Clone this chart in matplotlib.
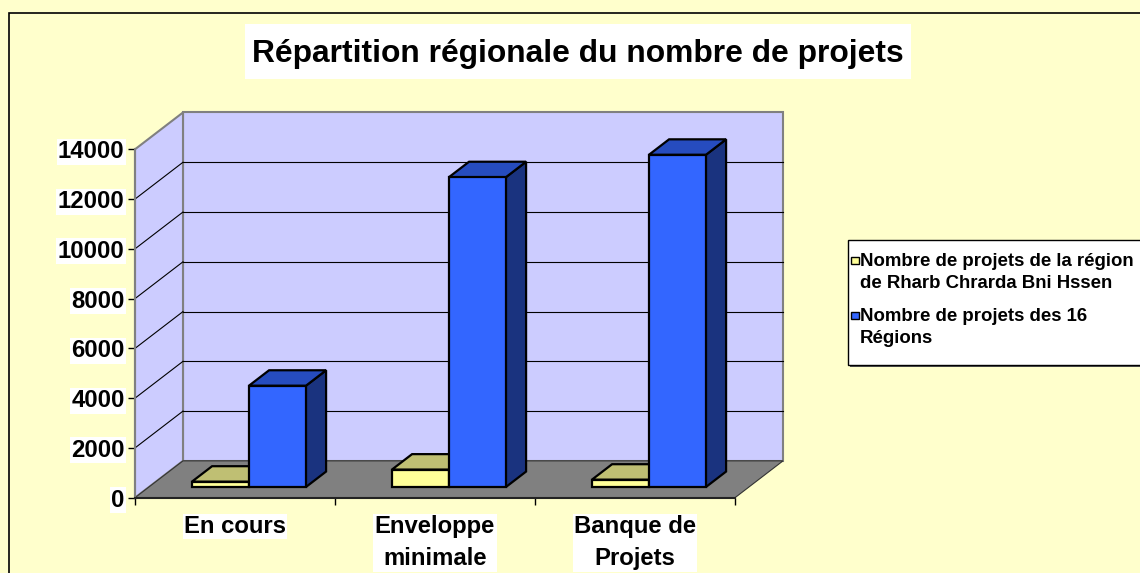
import matplotlib
matplotlib.use('Agg')
import matplotlib.pyplot as plt
from matplotlib.patches import Polygon, Rectangle

# ---------------- data ----------------
categories = ['En cours', 'Enveloppe\nminimale', 'Banque de\nProjets']
region_values = [215, 700, 295]          # Rharb Chrarda Bni Hssen
national_values = [4070, 12450, 13350]   # 16 Régions
series_labels = [['Nombre de projets de la région', 'de Rharb Chrarda Bni Hssen'],
                 ['Nombre de projets des 16', 'Régions']]
y_ticks = [0, 2000, 4000, 6000, 8000, 10000, 12000, 14000]
title = 'Répartition régionale du nombre de projets'

# ---------------- style ----------------
W, H = 1140, 573
FONT = 'Liberation Sans'
plt.rcParams['font.family'] = [FONT, 'DejaVu Sans']
BG = '#FFFFCC'
WALL = '#CCCCFF'
FLOOR = '#808080'
series_colors = [('#FFFF99', '#BFBF73', '#7F7F4C'),
                 ('#3366FF', '#264CBF', '#1A337F')]


def fx(px):
    return px / W


def fy(py):
    return 1 - py / H


fig = plt.figure(figsize=(W / 100, H / 100), dpi=100, facecolor=BG)

# outer chart border
fig.add_artist(Rectangle((fx(9), -0.05), 1.2, fy(12.7) + 0.05, transform=fig.transFigure,
                         fill=False, ec='black', lw=1.2))

# title
fig.add_artist(Rectangle((fx(245), fy(79)), (911 - 245) / W, 55 / H, transform=fig.transFigure,
                         fc='white', ec='none'))
fig.text(fx(578), fy(62.3), title, fontsize=22.9, fontweight='bold', ha='center', va='baseline')

# ---------------- axes (front plane) ----------------
ax = fig.add_axes([fx(135), fy(497.7), 600 / W, 348.4 / H])
n = len(categories)
YMAX = y_ticks[-1]
ax.set_xlim(0, n)
ax.set_ylim(0, YMAX)
ax.patch.set_visible(False)

DX, DY = 0.24, 1480      # depth offset (category units, value units)
F0, F1 = 0.29, 0.71      # depth range occupied by bars
BW = 0.285               # bar width (category units)

# back wall
ax.add_patch(Rectangle((DX, DY), n, YMAX, fc=WALL, ec='#808080', lw=1.5,
                       clip_on=False, zorder=1))
# side wall
ax.add_patch(Polygon([(0, 0), (0, YMAX), (DX, YMAX + DY), (DX, DY)], closed=True,
                     fc=WALL, ec='#808080', lw=1.5, clip_on=False, zorder=1))
# gridlines
for v in y_ticks[1:-1]:
    ax.plot([DX, n + DX], [v + DY, v + DY], color='black', lw=0.8, clip_on=False, zorder=1.5)
    ax.plot([0, DX], [v, v + DY], color='black', lw=0.8, clip_on=False, zorder=1.5)
# floor
ax.add_patch(Polygon([(0, 0), (n, 0), (n + DX, DY), (DX, DY)], closed=True,
                     fc=FLOOR, ec='#333333', lw=0.8, clip_on=False, zorder=2))


def bar3d(x0, h, cols, z):
    front, top, side = cols
    ox0, oy0 = F0 * DX, F0 * DY
    ox1, oy1 = F1 * DX, F1 * DY
    kw = dict(ec='black', lw=1.6, joinstyle='miter', clip_on=False, zorder=z)
    ax.add_patch(Polygon([(x0 + BW + ox0, oy0), (x0 + BW + ox1, oy1),
                          (x0 + BW + ox1, h + oy1), (x0 + BW + ox0, h + oy0)],
                         closed=True, fc=side, **kw))
    ax.add_patch(Polygon([(x0 + ox0, h + oy0), (x0 + BW + ox0, h + oy0),
                          (x0 + BW + ox1, h + oy1), (x0 + ox1, h + oy1)],
                         closed=True, fc=top, **kw))
    ax.add_patch(Rectangle((x0 + ox0, oy0), BW, h, fc=front, **kw))


z = 3
for i in range(n):
    c = i + 0.5
    bar3d(c - BW, region_values[i], series_colors[0], z)
    z += 1
    bar3d(c, national_values[i], series_colors[1], z)
    z += 1

# spines / ticks
for s in ('top', 'right'):
    ax.spines[s].set_visible(False)
ax.spines['left'].set_color('#808080')
ax.spines['left'].set_linewidth(1.5)
ax.spines['bottom'].set_color('#222222')
ax.spines['bottom'].set_linewidth(1.5)
ax.spines['left'].set_zorder(2.5)
ax.spines['bottom'].set_zorder(2.5)

ax.set_yticks(y_ticks)
ax.set_yticklabels([str(v) for v in y_ticks])
ax.tick_params(axis='y', direction='out', length=5, width=1, color='black',
               labelsize=17.2, pad=2.5)
for lbl in ax.get_yticklabels():
    lbl.set_fontweight('bold')
    lbl.set_bbox(dict(fc='white', ec='none', pad=1))

ax.set_xticks([i + 0.5 for i in range(n)])
ax.set_xticklabels(categories)
ax.set_xticks(list(range(n + 1)), minor=True)
ax.tick_params(axis='x', which='major', length=0, labelsize=17.2, pad=12.5)
ax.tick_params(axis='x', which='minor', direction='out', length=5, width=1, color='black')
for lbl in ax.get_xticklabels():
    lbl.set_fontweight('bold')
    lbl.set_linespacing(1.52)
    lbl.set_bbox(dict(fc='white', ec='none', pad=1))

# ---------------- legend (manual, Excel-like) ----------------
fig.add_artist(Rectangle((fx(850), fy(367)), 0.5, 125 / H, transform=fig.transFigure,
                         fc='#555555', ec='none'))
fig.add_artist(Rectangle((fx(848), fy(365)), 0.5, 125 / H, transform=fig.transFigure,
                         fc='white', ec='black', lw=1))
square_tops = [256.7, 311.7]
baselines = [(266.5, 288.5), (321, 343)]
for k in range(2):
    fig.add_artist(Rectangle((fx(851), fy(square_tops[k] + 7.6)), 7.6 / W, 7.6 / H,
                             transform=fig.transFigure, fc=series_colors[k][0],
                             ec='black', lw=1))
    for line, b in zip(series_labels[k], baselines[k]):
        fig.text(fx(860), fy(b), line, fontsize=13.4, fontweight='bold',
                 ha='left', va='baseline')

fig.savefig('out.png', dpi=100, facecolor=fig.get_facecolor())
